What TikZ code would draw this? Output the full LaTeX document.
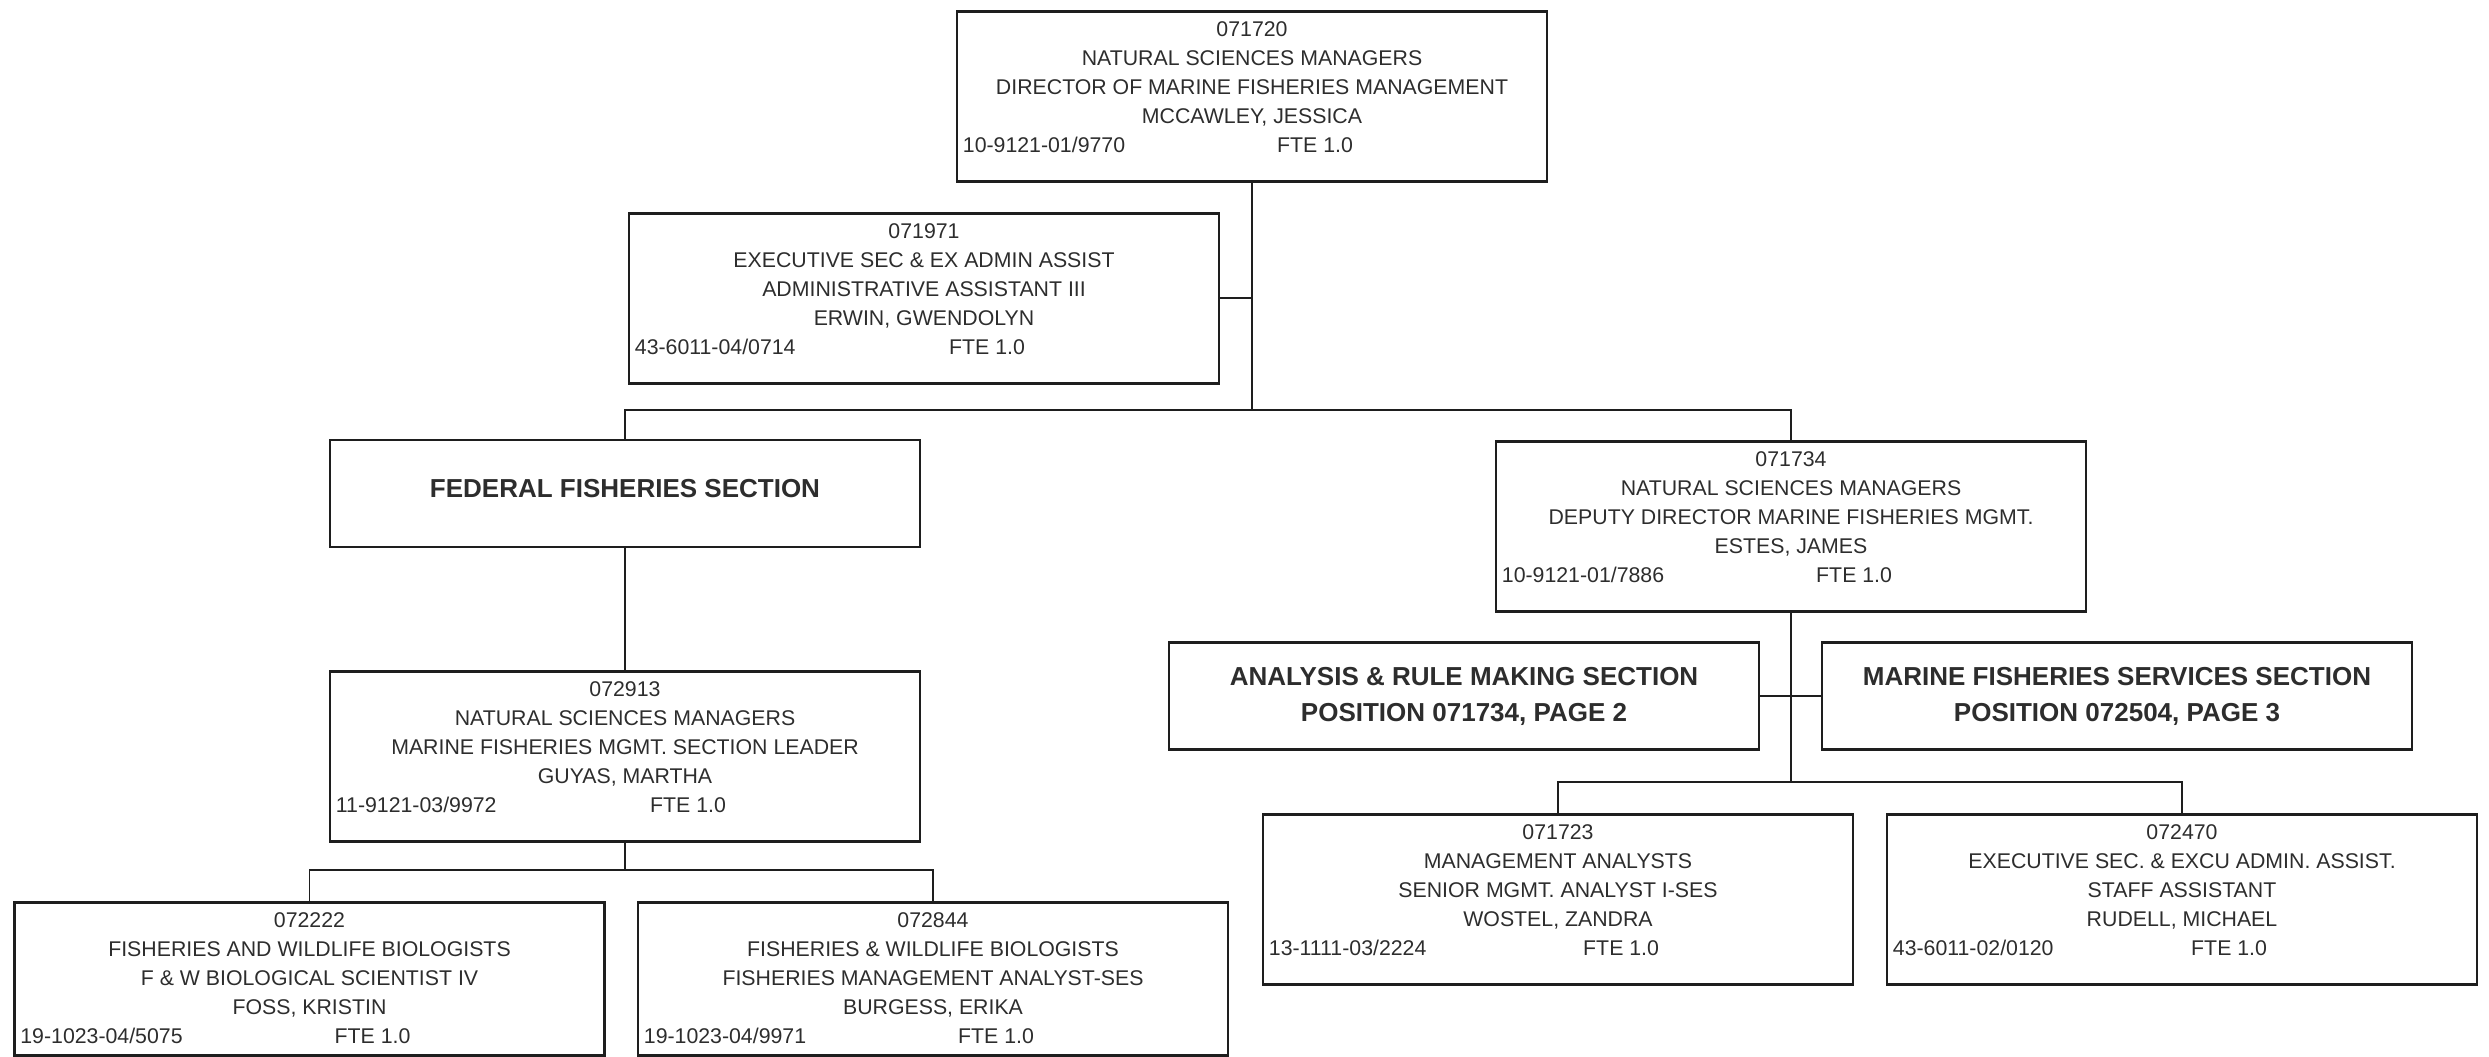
\documentclass[tikz,border=0pt]{standalone}
\usepackage{fontspec}
\setmainfont{Liberation Sans}
\usepackage{tikz}
\usetikzlibrary{positioning, calc}
\usepackage{xcolor}
\definecolor{LineColor}{RGB}{30, 30, 30}
\definecolor{TextColor}{RGB}{45, 45, 45}

% position box: name, top centre, number, class, title, incumbent, pay id, FTE shift
\newcommand{\positionbox}[8]{%
  \node[posbox, anchor=north] (#1) at (#2) {};
  \node[postext, anchor=north] (#1-text) at ([yshift=-11.5pt]#1.north) {#3\\#4\\#5\\#6};
  \node[postext, anchor=base west] (#1-pay) at ([xshift=7pt, yshift=-143pt]#1.north west) {#7};
  \node[postext, anchor=base west] (#1-fte) at ([xshift=#8, yshift=-143pt]#1.north) {FTE 1.0};
}

\begin{document}
\begin{tikzpicture}[x=1pt, y=1pt,
    posbox/.style={draw=LineColor, line width=2.6pt, minimum width=590pt, minimum height=170pt, inner sep=0pt},
    postext/.style={text=TextColor, inner sep=0pt, align=center, font=\fontsize{21.3}{29}\selectfont},
    secbox/.style={draw=LineColor, line width=2.6pt, minimum width=590pt, minimum height=107pt, inner sep=0pt,
      text=TextColor, align=center, font=\fontsize{26}{36}\selectfont\bfseries},
    link/.style={draw=LineColor, line width=1.8pt}]
  \useasboundingbox (0,0) rectangle (2489,1057);

  % director and assistant
  \positionbox{dir}{1252,1047}{071720}{NATURAL SCIENCES MANAGERS}{DIRECTOR OF MARINE FISHERIES MANAGEMENT}{MCCAWLEY, JESSICA}{10-9121-01/9770}{25pt}
  \positionbox{admin}{924,845}{071971}{EXECUTIVE SEC \& EX ADMIN ASSIST}{ADMINISTRATIVE ASSISTANT III}{ERWIN, GWENDOLYN}{43-6011-04/0714}{25pt}

  % second level
  \node[secbox, text depth=10pt] (fed) at (625,563.5) {FEDERAL FISHERIES SECTION};
  \positionbox{deputy}{1791,617}{071734}{NATURAL SCIENCES MANAGERS}{DEPUTY DIRECTOR MARINE FISHERIES MGMT.}{ESTES, JAMES}{10-9121-01/7886}{25pt}

  \positionbox{leader}{625,387}{072913}{NATURAL SCIENCES MANAGERS}{MARINE FISHERIES MGMT. SECTION LEADER}{GUYAS, MARTHA}{11-9121-03/9972}{25pt}
  \node[secbox] (analysis) at (1464,361) {ANALYSIS \& RULE MAKING SECTION\\POSITION 071734, PAGE 2};
  \node[secbox] (services) at (2117,361) {MARINE FISHERIES SERVICES SECTION\\POSITION 072504, PAGE 3};

  \positionbox{mgmt}{1558,244}{071723}{MANAGEMENT ANALYSTS}{SENIOR MGMT. ANALYST I-SES}{WOSTEL, ZANDRA}{13-1111-03/2224}{25pt}
  \positionbox{staff}{2182,244}{072470}{EXECUTIVE SEC. \& EXCU ADMIN. ASSIST.}{STAFF ASSISTANT}{RUDELL, MICHAEL}{43-6011-02/0120}{9pt}

  % bottom row is cut short
  \begin{scope}[posbox/.append style={minimum height=153pt}]
    \positionbox{biolA}{309.5,156}{072222}{FISHERIES AND WILDLIFE BIOLOGISTS}{F \& W BIOLOGICAL SCIENTIST IV}{FOSS, KRISTIN}{19-1023-04/5075}{25pt}
    \positionbox{biolB}{933,156}{072844}{FISHERIES \& WILDLIFE BIOLOGISTS}{FISHERIES MANAGEMENT ANALYST-SES}{BURGESS, ERIKA}{19-1023-04/9971}{25pt}
  \end{scope}

  % bus lines
  \coordinate (bus1) at (0,647);
  \coordinate (bus2) at (0,187);
  \coordinate (bus3) at (0,275);

  \draw[link] (dir.south) -- (dir.south |- bus1);
  \draw[link] (admin.east) -- (admin.east -| dir.south);
  \draw[link] (fed.north) -- (fed.north |- bus1) -- (deputy.north |- bus1) -- (deputy.north);
  \draw[link] (fed.south) -- (leader.north);
  \draw[link] (leader.south) -- (leader.south |- bus2);
  \draw[link] (biolA.north) -- (biolA.north |- bus2) -- (biolB.north |- bus2) -- (biolB.north);
  \draw[link] (deputy.south) -- (deputy.south |- bus3);
  \draw[link] (analysis.east) -- (services.west);
  \draw[link] (mgmt.north) -- (mgmt.north |- bus3) -- (staff.north |- bus3) -- (staff.north);
\end{tikzpicture}
\end{document}
